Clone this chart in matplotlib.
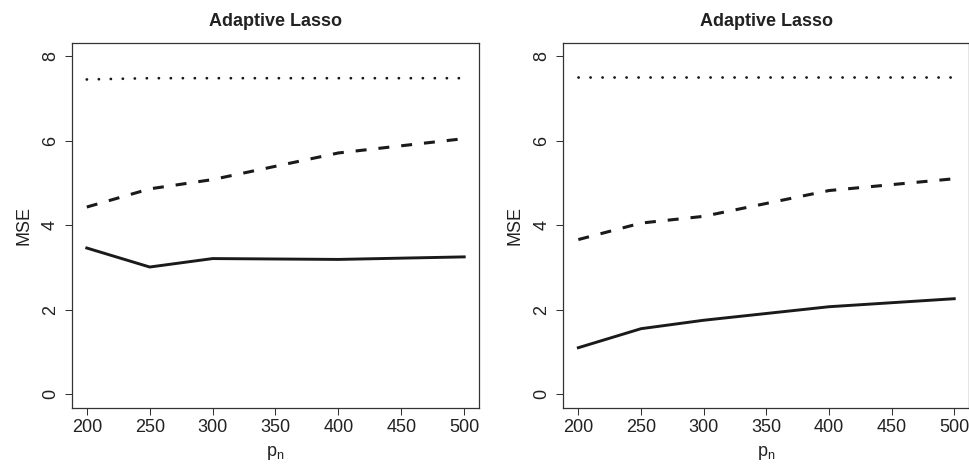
import matplotlib
matplotlib.use("Agg")
import matplotlib.pyplot as plt

plt.rcParams['font.family'] = ['Liberation Sans', 'DejaVu Sans']
plt.rcParams['lines.scale_dashes'] = False

# Data
pn = [200, 250, 300, 400, 500]
left_dotted = [7.45, 7.48, 7.48, 7.48, 7.48]
left_dashed = [4.43, 4.86, 5.08, 5.71, 6.05]
left_solid = [3.46, 3.01, 3.21, 3.19, 3.25]
right_dotted = [7.50, 7.50, 7.50, 7.50, 7.50]
right_dashed = [3.66, 4.05, 4.21, 4.82, 5.10]
right_solid = [1.10, 1.55, 1.75, 2.07, 2.26]
xticks = [200, 250, 300, 350, 400, 450, 500]
yticks = [0, 2, 4, 6, 8]
title = "Adaptive Lasso"

fig = plt.figure(figsize=(9.7, 4.66), dpi=100)
W, H = 970.0, 466.0
top_px, bot_px = 42.7, 407.7
axL = fig.add_axes([71.7 / W, 1 - bot_px / H, (479.3 - 71.7) / W, (bot_px - top_px) / H])
axR = fig.add_axes([563.3 / W, 1 - bot_px / H, (969.3 - 563.3) / W, (bot_px - top_px) / H])

col = '#1a1a1a'
txt = '#222222'
for ax, dot, dash, sol in [(axL, left_dotted, left_dashed, left_solid),
                           (axR, right_dotted, right_dashed, right_solid)]:
    ax.plot(pn, dot, color=col, lw=2.0, dashes=(0.1, 8.54), dash_capstyle='round')
    ax.plot(pn, dash, color=col, lw=2.2, dashes=(7.9, 8.6), dash_capstyle='butt')
    ax.plot(pn, sol, color=col, lw=2.1, solid_joinstyle='miter')
    ax.set_xlim(188, 512)
    ax.set_ylim(-0.32, 8.32)
    ax.set_xticks(xticks)
    ax.set_yticks(yticks)
    ax.set_xticklabels([str(v) for v in xticks], fontsize=13, color=txt)
    ax.set_yticklabels([str(v) for v in yticks], fontsize=13, color=txt,
                       rotation=90, va='center')
    ax.tick_params(length=5.2, width=0.75, color='#333333', pad=3)
    ax.tick_params(axis='y', pad=4)
    for s in ax.spines.values():
        s.set_linewidth(0.9)
        s.set_color('#333333')
    ax.set_title(title, fontsize=13, fontweight='bold', color=txt, pad=12)
    ax.set_ylabel('MSE', fontsize=13, color=txt, labelpad=7)
    ax.set_xlabel(r'$\mathregular{p_n}$', fontsize=13, color=txt, labelpad=6)

fig.savefig('out.png', dpi=100)
